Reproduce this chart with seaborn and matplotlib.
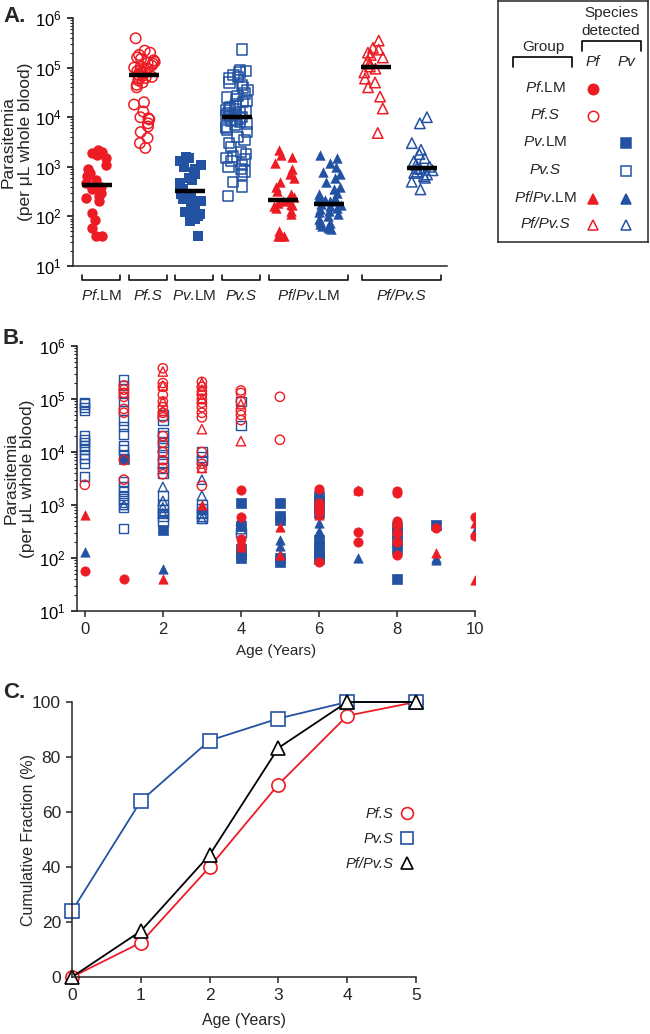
import numpy as np
import pandas as pd
import seaborn as sns
import matplotlib.pyplot as plt
from matplotlib.lines import Line2D
from matplotlib.ticker import LogLocator, LogFormatterMathtext, NullFormatter

RED = '#ed1c24'
BLUE = '#2352a3'

# ---- panel A: parasitemia per group (per uL) ----
cols = ['Pf.LM', 'Pf.S', 'Pv.LM', 'Pv.S', 'Pf/Pv.LM Pf', 'Pf/Pv.LM Pv', 'Pf/Pv.S Pf', 'Pf/Pv.S Pv']

a_pf_lm = [2200, 2000, 1900, 1700, 1500, 1100, 900, 750, 650, 550, 480, 420,
           400, 350, 300, 260, 230, 200, 115, 85, 58, 40, 40]
a_pf_s = [390000, 220000, 200000, 180000, 160000, 150000, 140000, 130000, 125000,
          120000, 110000, 105000, 100000, 95000, 90000, 88000, 85000, 80000, 75000,
          72000, 70000, 68000, 65000, 62000, 60000, 55000, 50000, 45000, 40000,
          20000, 18000, 13000, 10000, 9500, 9000, 7500, 6500, 5000, 3800, 3000, 2400]
a_pv_lm = [1600, 1500, 1300, 1200, 1100, 1000, 900, 800, 700, 600, 550, 480, 400, 350,
           320, 300, 280, 250, 220, 200, 180, 160, 140, 120, 110, 100, 90, 80, 40]
a_pv_s = [230000, 90000, 85000, 80000, 70000, 65000, 60000, 50000, 45000, 40000, 35000,
          30000, 27000, 25000, 23000, 21000, 20000, 18000, 17000, 16000, 15000, 14000,
          13000, 12500, 12000, 11500, 11000, 10500, 10000,
          9500, 9000, 8500, 8000, 7500, 7000, 6500, 6000, 5500, 5000, 4000, 3500, 3000,
          2500, 2000, 1800, 1600, 1500, 1400, 1300, 1100, 1000, 900, 800, 700, 500, 400, 260]
a_mix_lm_pf = [2200, 1700, 1600, 1200, 900, 700, 600, 500, 400, 330, 280, 250, 215,
               200, 190, 180, 170, 160, 150, 130, 110, 50, 40, 40, 40]
a_mix_lm_pv = [1700, 1500, 1200, 1000, 800, 700, 600, 500, 400, 350, 300, 280, 250, 230,
               210, 200, 180, 170, 160, 150, 140, 130, 120, 110, 100, 90, 80, 75, 70,
               65, 60, 58, 55]
a_mix_s_pf = [350000, 250000, 230000, 200000, 180000, 160000, 140000, 120000, 105000,
              95000, 80000, 60000, 50000, 40000, 26000, 15000, 4800]
a_mix_s_pv = [10000, 7500, 3000, 2200, 1800, 1500, 1300, 1100, 1000, 950,
              900, 850, 800, 750, 700, 650, 600, 500, 350]

# ---- panel B: parasitemia by age (index = age in years, 0..10) ----
b_pf_lm = [[57], [40], [], [], [1900, 600, 230], [], [2000, 1100, 900, 750, 85],
           [1800, 310, 200], [1800, 1650, 500, 420, 300, 200, 115], [370], [600, 260]]
b_pf_s = [[2400], [180000, 150000, 130000, 110000, 65000, 55000, 7000, 3000],
          [380000, 200000, 170000, 120000, 90000, 70000, 55000, 45000, 20000, 15000,
           10000, 7000, 5000, 3800],
          [210000, 170000, 140000, 120000, 100000, 85000, 70000, 55000, 45000, 10000,
           6000, 5000, 2300],
          [145000, 130000, 90000, 60000, 50000, 40000], [110000, 17000], [], [], [], [], []]
b_pv_lm = [[], [7500], [340], [], [1100, 400, 150, 120, 100], [1070, 630, 520, 100, 85],
           [1500, 1200, 900, 700, 220, 160, 130, 110, 95], [], [380, 300, 220, 150, 40],
           [420], []]
b_pv_s = [[85000, 80000, 70000, 60000, 20000, 17000, 15000, 13000, 11000, 9000, 7500,
           6000, 3500],
          [230000, 180000, 130000, 90000, 60000, 40000, 30000, 22000, 13000, 11000, 9000,
           2800, 2200, 1800, 1500, 1300, 1100, 900, 360],
          [50000, 40000, 23000, 20000, 15000, 12000, 9000, 6500, 5000, 4000, 1500, 1000,
           800, 700, 600, 500],
          [10000, 8000, 7000, 1000, 850, 700, 600, 550], [90000, 32000, 300],
          [], [], [], [], [], []]
b_mix_lm_pf = [[650], [], [40], [1000], [220, 180, 160], [390, 115], [1000, 800, 650],
               [1900], [220], [125], [450, 38]]
b_mix_lm_pv = [[130], [], [63], [900], [600, 500, 400], [220, 170, 120], [460, 320],
               [100], [200, 130], [100, 90], [330, 280]]
b_mix_s_pf = [[], [], [330000, 180000, 90000, 60000], [200000, 150000, 100000, 27000, 5000],
              [80000, 16000], [], [], [], [], [], []]
b_mix_s_pv = [[], [1000], [2200, 1200, 900, 700], [3000, 1500, 900, 700, 550], [500, 350],
              [], [], [], [], [], []]

# ---- panel C: cumulative fraction by age ----
c_age = [0, 1, 2, 3, 4, 5]
c_pf_s = [0, 12.5, 40, 70, 95, 100]
c_pv_s = [24, 64, 86, 94, 100, 100]
c_mix_s = [0, 16.7, 44.4, 83.3, 100, 100]

# styles for the 8 series
col_color = [RED, RED, BLUE, BLUE, RED, BLUE, RED, BLUE]
col_marker = ['o', 'o', 's', 's', '^', '^', '^', '^']
col_filled = [True, False, True, False, True, True, False, False]

sns.set_style('ticks')
plt.rcParams['font.family'] = ['Liberation Sans', 'DejaVu Sans']
plt.rcParams['mathtext.fontset'] = 'custom'
plt.rcParams['mathtext.rm'] = 'Liberation Sans'
plt.rcParams['mathtext.it'] = 'Liberation Sans:italic'
plt.rcParams['mathtext.bf'] = 'Liberation Sans:bold'
plt.rcParams['axes.linewidth'] = 1.1
plt.rcParams['xtick.major.width'] = 1.1
plt.rcParams['ytick.major.width'] = 1.1
plt.rcParams['ytick.minor.width'] = 0.8
plt.rcParams['xtick.major.size'] = 4.5
plt.rcParams['ytick.major.size'] = 4.5
plt.rcParams['ytick.minor.size'] = 2.5

W, H = 650, 1034
fig = plt.figure(figsize=(6.5, 10.34), dpi=100)


def box(l, t, r, b):
    return [l / W, 1 - b / H, (r - l) / W, (b - t) / H]


def log_axis(ax):
    ax.set_yscale('log')
    ax.set_ylim(10, 1e6)
    ax.yaxis.set_major_locator(LogLocator(base=10, numticks=10))
    ax.yaxis.set_minor_locator(LogLocator(base=10, subs=np.arange(2, 10), numticks=50))
    ax.yaxis.set_major_formatter(LogFormatterMathtext())
    ax.yaxis.set_minor_formatter(NullFormatter())
    ax.tick_params(axis='y', labelsize=12, colors='black')
    sns.despine(ax=ax)


def group_text(ax, x, y, label, **kw):
    # italic species name, upright ".LM" suffix
    if label.endswith('.LM'):
        ax.text(x, y, r'$\mathit{%s}$.LM' % label[:-3], **kw)
    else:
        ax.text(x, y, label, style='italic', **kw)


# ================= A =================
axA = fig.add_axes(box(73, 18, 447, 266))
a_lists = [a_pf_lm, a_pf_s, a_pv_lm, a_pv_s, a_mix_lm_pf, a_mix_lm_pv, a_mix_s_pf, a_mix_s_pv]
dfA = pd.DataFrame([(g, v) for g, vals in zip(cols, a_lists) for v in vals],
                   columns=['group', 'parasitemia'])

np.random.seed(3)
for g, c, m, f in zip(cols, col_color, col_marker, col_filled):
    sub = dfA[dfA.group == g]
    if f:
        sns.stripplot(data=sub, x='group', y='parasitemia', order=cols, color=c,
                      marker=m, size=7.5, linewidth=0, edgecolor=c, jitter=0.25,
                      log_scale=True, ax=axA)
    else:
        sns.stripplot(data=sub, x='group', y='parasitemia', order=cols, color=c,
                      marker=m, size=7.5, linewidth=1.1, edgecolor=c, facecolor='none',
                      jitter=0.25, log_scale=True, ax=axA)

sns.pointplot(data=dfA, x='group', y='parasitemia', order=cols, estimator='median',
              errorbar=None, color='black', marker='_', markersize=21,
              markeredgewidth=3.2, linestyle='none', log_scale=True, zorder=6, ax=axA)

log_axis(axA)
axA.set_xlim(-0.52, 7.53)
axA.set_xticks([])
axA.set_xlabel('')
axA.set_ylabel('Parasitemia\n(per μL whole blood)', fontsize=12.5, linespacing=1.15)
axA.yaxis.set_label_coords(-0.108, 0.5)

# group brackets under the axis
brackets = [(0, 0, 'Pf.LM'), (1, 1, 'Pf.S'), (2, 2, 'Pv.LM'), (3, 3, 'Pv.S'),
            (4, 5, 'Pf/Pv.LM'), (6, 7, 'Pf/Pv.S')]
trA = axA.get_xaxis_transform()
for i, j, lab in brackets:
    x0, x1 = (i - 0.3, j + 0.4) if i != j else (i - 0.32, i + 0.5)
    axA.plot([x0, x0, x1, x1], [-0.035, -0.058, -0.058, -0.035], color='black',
             lw=1.1, transform=trA, clip_on=False)
    group_text(axA, (x0 + x1) / 2, -0.12, lab, transform=trA, ha='center',
               va='center', fontsize=11)

fig.text(3 / W, 1 - 17 / H, 'A.', fontsize=16, fontweight='bold', va='center')

# legend box for A/B
legA = fig.add_axes(box(498, 1, 648, 242))
legA.set_xlim(498, 648)
legA.set_ylim(242, 1)
legA.set_xticks([])
legA.set_yticks([])
for s in legA.spines.values():
    s.set_linewidth(1.1)
legA.text(611, 13, 'Species', ha='center', va='center', fontsize=11)
legA.text(611, 31, 'detected', ha='center', va='center', fontsize=11)
legA.plot([582, 582, 641, 641], [51, 41, 41, 51], color='black', lw=1.2)
legA.text(543, 47, 'Group', ha='center', va='center', fontsize=11)
legA.plot([513, 513, 572, 572], [67, 57, 57, 67], color='black', lw=1.2)
legA.text(593, 62, 'Pf', ha='center', va='center', fontsize=11, style='italic')
legA.text(626, 62, 'Pv', ha='center', va='center', fontsize=11, style='italic')
row_labels = ['Pf.LM', 'Pf.S', 'Pv.LM', 'Pv.S', 'Pf/Pv.LM', 'Pf/Pv.S']
row_y = [88, 115, 142, 170, 198, 224]
for lab, y in zip(row_labels, row_y):
    group_text(legA, 545, y, lab, ha='center', va='center', fontsize=11)
# (row, column) where each series sits in the legend table
leg_pos = [(0, 593), (1, 593), (2, 626), (3, 626), (4, 593), (4, 626), (5, 593), (5, 626)]
for (r, x), c, m, f in zip(leg_pos, col_color, col_marker, col_filled):
    legA.plot([x], [row_y[r] + 1], marker=m, ms=7.5, mfc=c if f else 'none', mec=c,
              mew=1.1, linestyle='none')

# ================= B =================
axB = fig.add_axes(box(77, 346, 475, 611))
b_lists = [b_pf_lm, b_pf_s, b_pv_lm, b_pv_s, b_mix_lm_pf, b_mix_lm_pv, b_mix_s_pf, b_mix_s_pv]
dfB = pd.DataFrame([(g, age, v) for g, lst in zip(cols, b_lists)
                    for age, vals in enumerate(lst) for v in vals],
                   columns=['group', 'age', 'parasitemia'])
draw_order = [3, 2, 5, 7, 1, 0, 6, 4]
for k in draw_order:
    g, c, m, f = cols[k], col_color[k], col_marker[k], col_filled[k]
    sub = dfB[dfB.group == g]
    if f:
        sns.scatterplot(data=sub, x='age', y='parasitemia', marker=m, color=c,
                        edgecolor=c, linewidth=0.5, s=45, ax=axB)
    else:
        sns.scatterplot(data=sub, x='age', y='parasitemia', marker=m, color=c,
                        edgecolor=c, facecolor='none', linewidth=1.0, s=45, ax=axB)
log_axis(axB)
axB.set_xlim(-0.2, 10)
axB.set_xticks(range(0, 11, 2))
axB.tick_params(axis='x', labelsize=12)
axB.set_xlabel('Age (Years)', fontsize=11, labelpad=5)
axB.set_ylabel('Parasitemia\n(per μL whole blood)', fontsize=12.5, linespacing=1.15)
axB.yaxis.set_label_coords(-0.105, 0.5)
fig.text(3 / W, 1 - 339 / H, 'B.', fontsize=16, fontweight='bold', va='center')

# ================= C =================
axC = fig.add_axes(box(72, 702, 416, 977))
c_lines = [('Pf.S', c_pf_s, RED, 'o'), ('Pv.S', c_pv_s, BLUE, 's'),
           ('Pf/Pv.S', c_mix_s, 'black', '^')]
for name, frac, c, m in c_lines:
    sns.lineplot(x=c_age, y=frac, color=c, marker=m, markersize=9.5, mfc='white', mec=c,
                 mew=1.2, lw=1.3, clip_on=False, ax=axC)
axC.set_xlim(0, 5)
axC.set_ylim(0, 100)
axC.set_xticks(c_age)
axC.set_yticks(range(0, 101, 20))
axC.tick_params(labelsize=12.5)
sns.despine(ax=axC)
axC.set_xlabel('Age (Years)', fontsize=11.5, labelpad=7)
axC.set_ylabel('Cumulative Fraction (%)', fontsize=11.5)
axC.yaxis.set_label_coords(-0.105, 0.5)
handles = [Line2D([], [], marker=m, mfc='white', mec=c, mew=1.2, ms=8.5, linestyle='none')
           for _, _, c, m in c_lines]
axC.legend(handles, [n for n, _, _, _ in c_lines],
           markerfirst=False, frameon=False, loc='center right',
           bbox_to_anchor=(414 / W, 1 - 839 / H), bbox_transform=fig.transFigure,
           borderaxespad=0, borderpad=0, handlelength=1.0, handletextpad=0.4,
           labelspacing=0.75, prop={'size': 10.5, 'style': 'italic'})
fig.text(3 / W, 1 - 692 / H, 'C.', fontsize=16, fontweight='bold', va='center')

fig.savefig('out.png', dpi=100)
